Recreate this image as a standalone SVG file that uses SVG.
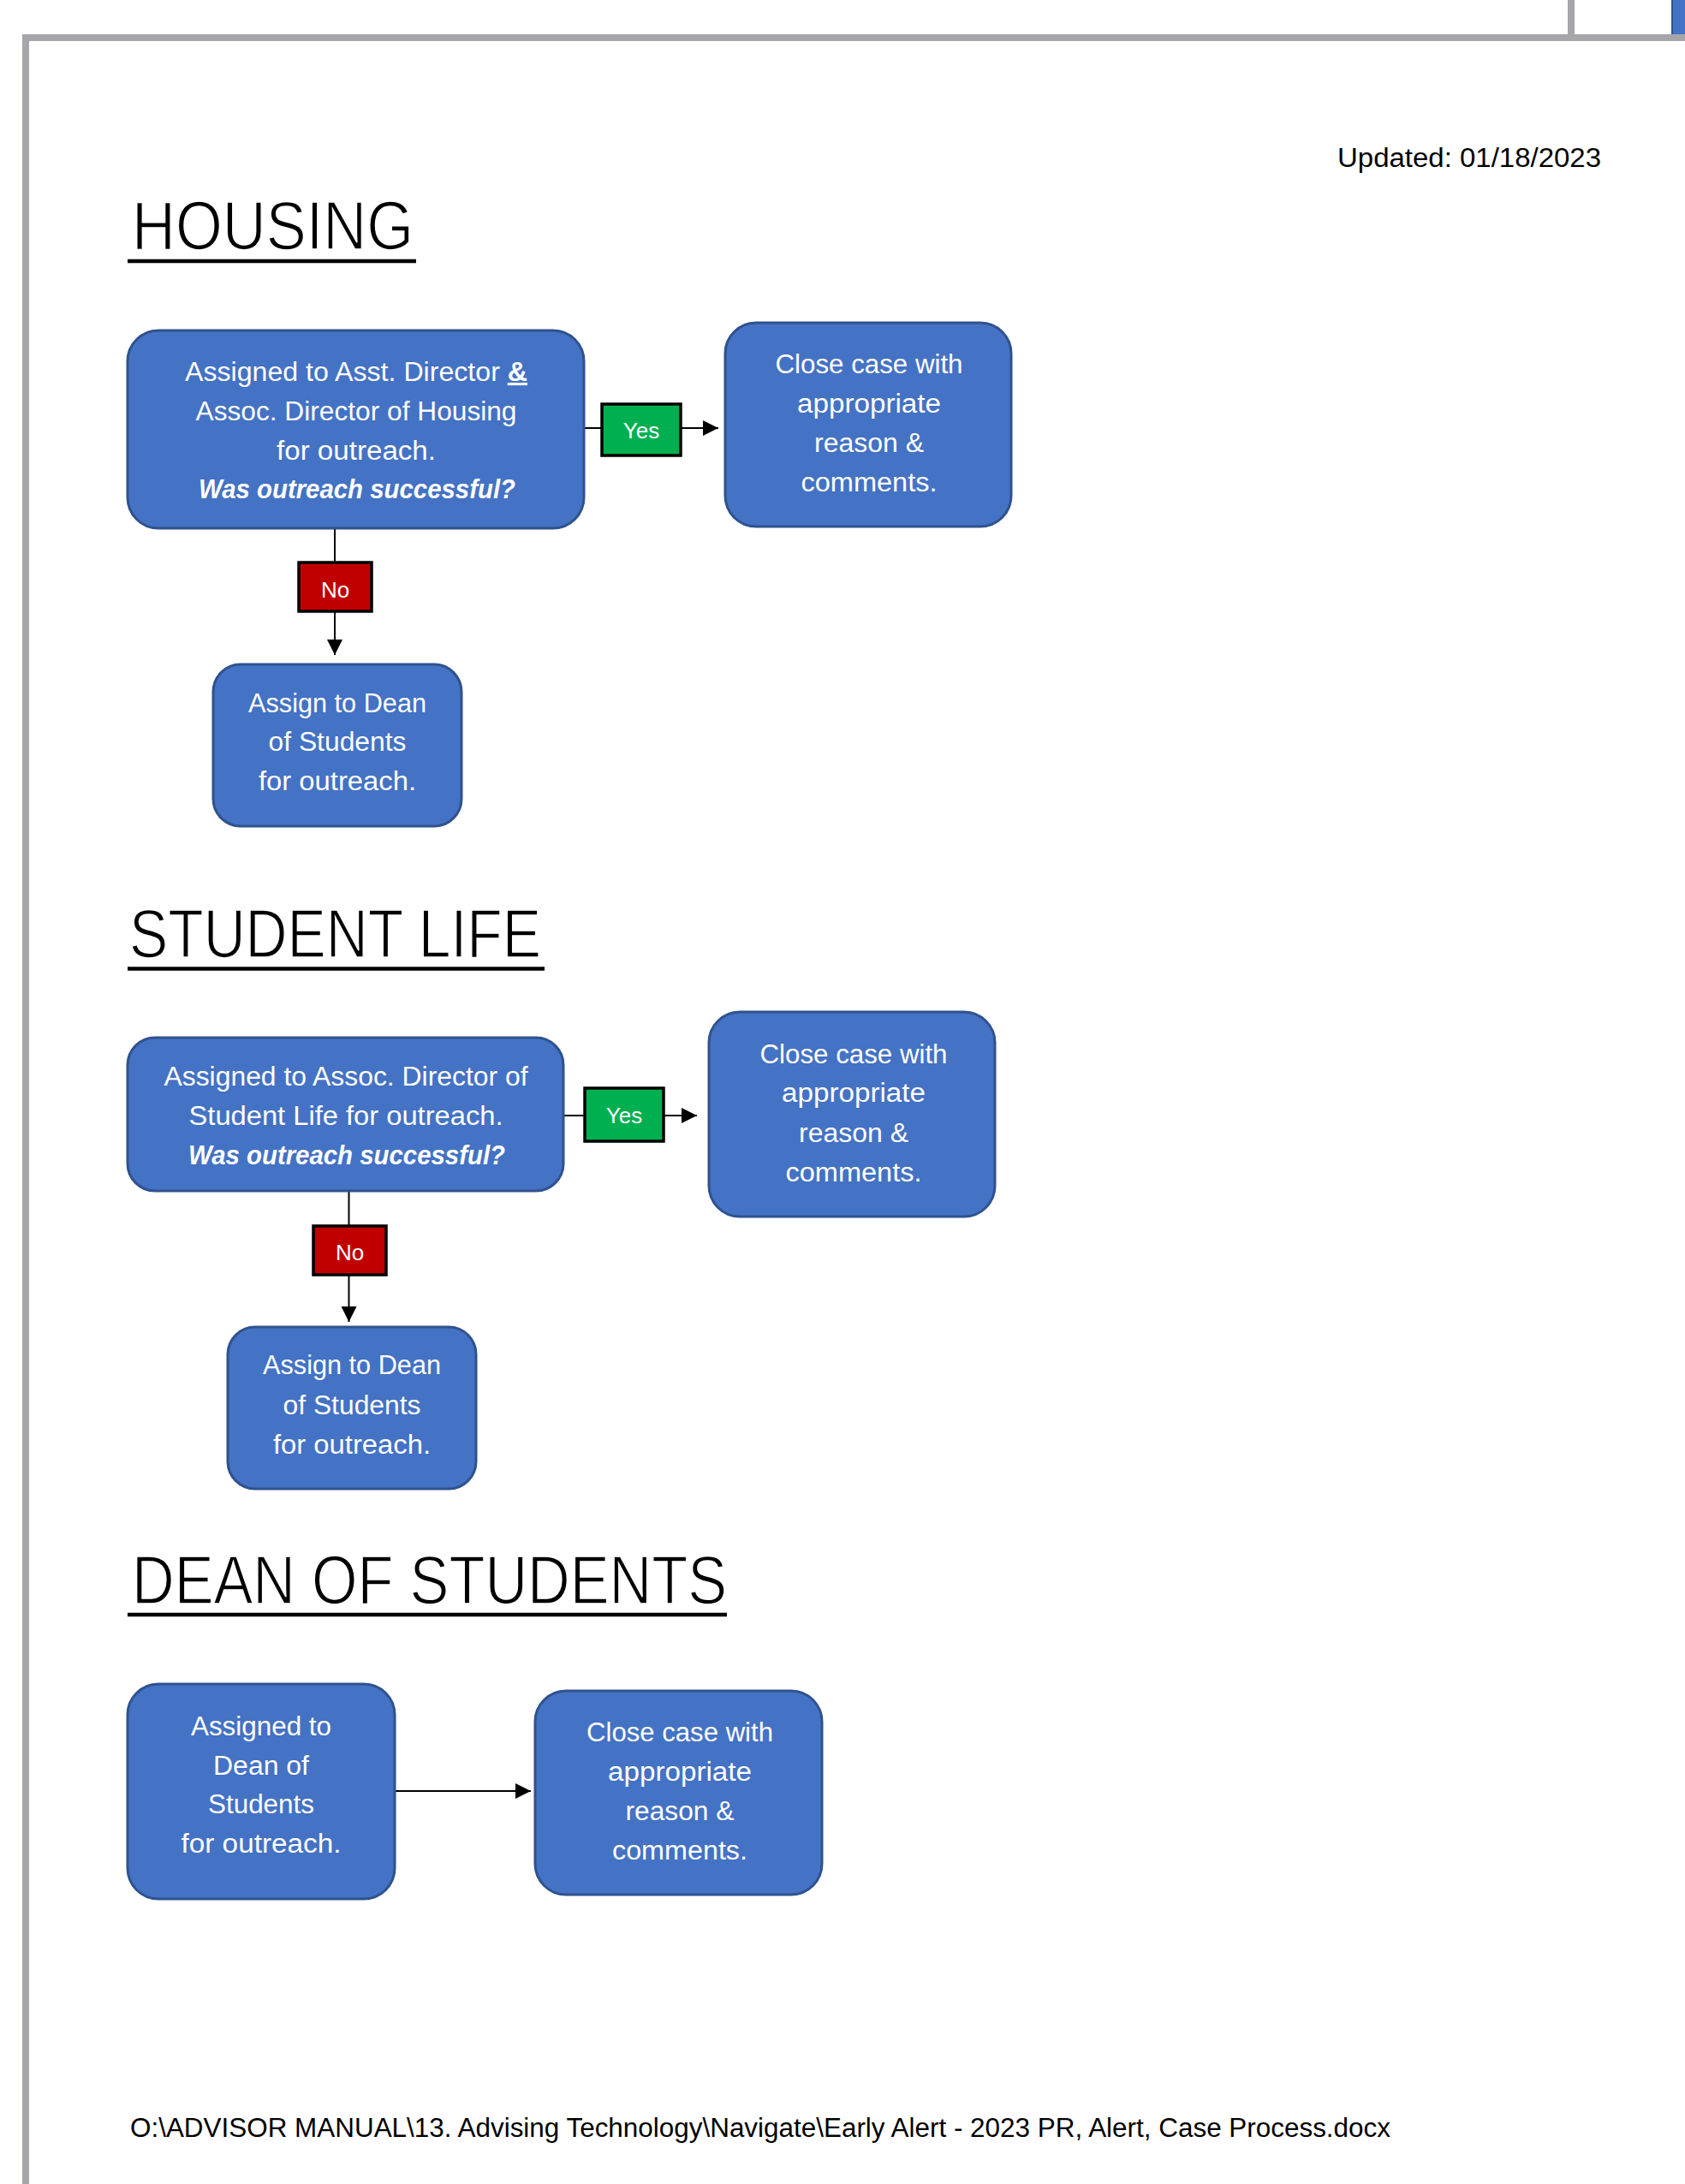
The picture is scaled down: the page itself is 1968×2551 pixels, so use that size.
<svg xmlns="http://www.w3.org/2000/svg" width="1968" height="2551" viewBox="0 0 1968 2551">
<style>
  .node{fill:#4472C4;stroke:#2F528F;stroke-width:3}
  .nt{font-family:"Liberation Sans",Arial,sans-serif;font-size:31px;fill:#FFFFFF;text-anchor:middle}
  .bi{font-weight:bold;font-style:italic}
  .head{font-family:"Liberation Sans",Arial,sans-serif;font-size:80px;fill:#000000;stroke:#FFFFFF;stroke-width:1.6}
  .ul{stroke:#000000;stroke-width:4.5}
  .conn{stroke:#000000;stroke-width:2;fill:none}
  .yes{fill:#00B050;stroke:#000000;stroke-width:3.5}
  .no{fill:#C00000;stroke:#000000;stroke-width:3.5}
  .lbl{font-family:"Liberation Sans",Arial,sans-serif;font-size:26px;fill:#FFFFFF;text-anchor:middle}
  .doc{font-family:"Liberation Sans",Arial,sans-serif;font-size:31px;fill:#000000}
</style>
<defs>
  <marker id="arr" viewBox="0 0 10 10" refX="10" refY="5" markerUnits="userSpaceOnUse" markerWidth="19" markerHeight="18" orient="auto">
    <path d="M0,0 L10,5 L0,10 z" fill="#000000"/>
  </marker>
</defs>
<rect x="0" y="0" width="1968" height="2551" fill="#FFFFFF"/>
<!-- page frame -->
<g id="frame">
  <rect x="26" y="40" width="1942" height="8" fill="#A6A6AA"/>
  <rect x="26" y="40" width="8" height="2511" fill="#A6A6AA"/>
  <rect x="1831" y="0" width="8" height="40" fill="#A6A6AA"/>
  <rect x="1952" y="0" width="16" height="40" fill="#4472C4"/>
  <rect x="1952" y="0" width="2" height="40" fill="#2F528F"/>
</g>
<text class="doc" x="1562" y="195" textLength="308" lengthAdjust="spacingAndGlyphs">Updated: 01/18/2023</text>

<!-- headings -->
<g id="heading-housing">
  <text class="head" x="154" y="291" textLength="329" lengthAdjust="spacingAndGlyphs">HOUSING</text>
  <line class="ul" x1="149" y1="305" x2="486" y2="305"/>
</g>
<g id="heading-student-life">
  <text class="head" x="151" y="1118" textLength="481" lengthAdjust="spacingAndGlyphs">STUDENT LIFE</text>
  <line class="ul" x1="149" y1="1131.5" x2="636" y2="1131.5"/>
</g>
<g id="heading-dean">
  <text class="head" x="154" y="1873" textLength="695" lengthAdjust="spacingAndGlyphs">DEAN OF STUDENTS</text>
  <line class="ul" x1="149" y1="1886" x2="849" y2="1886"/>
</g>

<!-- connectors -->
<g id="connectors">
  <line class="conn" x1="683" y1="500" x2="839" y2="500" marker-end="url(#arr)"/>
  <line class="conn" x1="391" y1="617" x2="391" y2="765" marker-end="url(#arr)"/>
  <line class="conn" x1="658" y1="1303" x2="814" y2="1303" marker-end="url(#arr)"/>
  <line class="conn" x1="407.5" y1="1391" x2="407.5" y2="1544" marker-end="url(#arr)"/>
  <line class="conn" x1="462" y1="2092" x2="620" y2="2092" marker-end="url(#arr)"/>
  <g id="label-housing-yes">
    <rect class="yes" x="703" y="472" width="92" height="60"/>
    <text class="lbl" x="749" y="512">Yes</text>
  </g>
  <g id="label-housing-no">
    <rect class="no" x="349" y="657" width="85" height="57"/>
    <text class="lbl" x="391.5" y="698">No</text>
  </g>
  <g id="label-sl-yes">
    <rect class="yes" x="683" y="1271" width="92" height="62"/>
    <text class="lbl" x="729" y="1312">Yes</text>
  </g>
  <g id="label-sl-no">
    <rect class="no" x="366" y="1432" width="85" height="57"/>
    <text class="lbl" x="408.5" y="1472">No</text>
  </g>
</g>

<!-- HOUSING nodes -->
<g id="housing-assigned">
  <rect class="node" x="149" y="386" width="533" height="231" rx="36"/>
  <text class="nt" x="416" y="445" textLength="400" lengthAdjust="spacingAndGlyphs">Assigned to Asst. Director <tspan font-weight="bold" text-decoration="underline">&amp;</tspan></text>
  <text class="nt" x="416" y="491" textLength="375" lengthAdjust="spacingAndGlyphs">Assoc. Director of Housing</text>
  <text class="nt" x="416" y="537" textLength="186" lengthAdjust="spacingAndGlyphs">for outreach.</text>
  <text class="nt bi" x="417" y="582" textLength="370" lengthAdjust="spacingAndGlyphs">Was outreach successful?</text>
</g>
<g id="housing-close">
  <rect class="node" x="847" y="377" width="334" height="238" rx="36"/>
  <text class="nt" x="1015" y="436" textLength="219" lengthAdjust="spacingAndGlyphs">Close case with</text>
  <text class="nt" x="1015" y="482" textLength="168" lengthAdjust="spacingAndGlyphs">appropriate</text>
  <text class="nt" x="1015" y="528" textLength="128" lengthAdjust="spacingAndGlyphs">reason &amp;</text>
  <text class="nt" x="1015" y="574" textLength="159" lengthAdjust="spacingAndGlyphs">comments.</text>
</g>
<g id="housing-dean">
  <rect class="node" x="249" y="776" width="290" height="189" rx="32"/>
  <text class="nt" x="394" y="832" textLength="208" lengthAdjust="spacingAndGlyphs">Assign to Dean</text>
  <text class="nt" x="394" y="877" textLength="161" lengthAdjust="spacingAndGlyphs">of Students</text>
  <text class="nt" x="394" y="923" textLength="184" lengthAdjust="spacingAndGlyphs">for outreach.</text>
</g>

<!-- STUDENT LIFE nodes -->
<g id="sl-assigned">
  <rect class="node" x="149" y="1212" width="509" height="179" rx="32"/>
  <text class="nt" x="404" y="1268" textLength="425" lengthAdjust="spacingAndGlyphs">Assigned to Assoc. Director of</text>
  <text class="nt" x="404" y="1314" textLength="367" lengthAdjust="spacingAndGlyphs">Student Life for outreach.</text>
  <text class="nt bi" x="405" y="1360" textLength="370" lengthAdjust="spacingAndGlyphs">Was outreach successful?</text>
</g>
<g id="sl-close">
  <rect class="node" x="828" y="1182" width="334" height="239" rx="36"/>
  <text class="nt" x="997" y="1242" textLength="219" lengthAdjust="spacingAndGlyphs">Close case with</text>
  <text class="nt" x="997" y="1287" textLength="168" lengthAdjust="spacingAndGlyphs">appropriate</text>
  <text class="nt" x="997" y="1334" textLength="128" lengthAdjust="spacingAndGlyphs">reason &amp;</text>
  <text class="nt" x="997" y="1380" textLength="159" lengthAdjust="spacingAndGlyphs">comments.</text>
</g>
<g id="sl-dean">
  <rect class="node" x="266" y="1550" width="290" height="189" rx="32"/>
  <text class="nt" x="411" y="1605" textLength="208" lengthAdjust="spacingAndGlyphs">Assign to Dean</text>
  <text class="nt" x="411" y="1652" textLength="161" lengthAdjust="spacingAndGlyphs">of Students</text>
  <text class="nt" x="411" y="1698" textLength="184" lengthAdjust="spacingAndGlyphs">for outreach.</text>
</g>

<!-- DEAN OF STUDENTS nodes -->
<g id="dos-assigned">
  <rect class="node" x="149" y="1967" width="312" height="251" rx="36"/>
  <text class="nt" x="305" y="2027" textLength="164" lengthAdjust="spacingAndGlyphs">Assigned to</text>
  <text class="nt" x="305" y="2073" textLength="112" lengthAdjust="spacingAndGlyphs">Dean of</text>
  <text class="nt" x="305" y="2118" textLength="124" lengthAdjust="spacingAndGlyphs">Students</text>
  <text class="nt" x="305" y="2164" textLength="187" lengthAdjust="spacingAndGlyphs">for outreach.</text>
</g>
<g id="dos-close">
  <rect class="node" x="625" y="1975" width="335" height="238" rx="36"/>
  <text class="nt" x="794" y="2034" textLength="218" lengthAdjust="spacingAndGlyphs">Close case with</text>
  <text class="nt" x="794" y="2080" textLength="168" lengthAdjust="spacingAndGlyphs">appropriate</text>
  <text class="nt" x="794" y="2126" textLength="127" lengthAdjust="spacingAndGlyphs">reason &amp;</text>
  <text class="nt" x="794" y="2172" textLength="158" lengthAdjust="spacingAndGlyphs">comments.</text>
</g>

<text class="doc" x="152" y="2496" textLength="1472" lengthAdjust="spacingAndGlyphs">O:\ADVISOR MANUAL\13. Advising Technology\Navigate\Early Alert - 2023 PR, Alert, Case Process.docx</text>
</svg>
